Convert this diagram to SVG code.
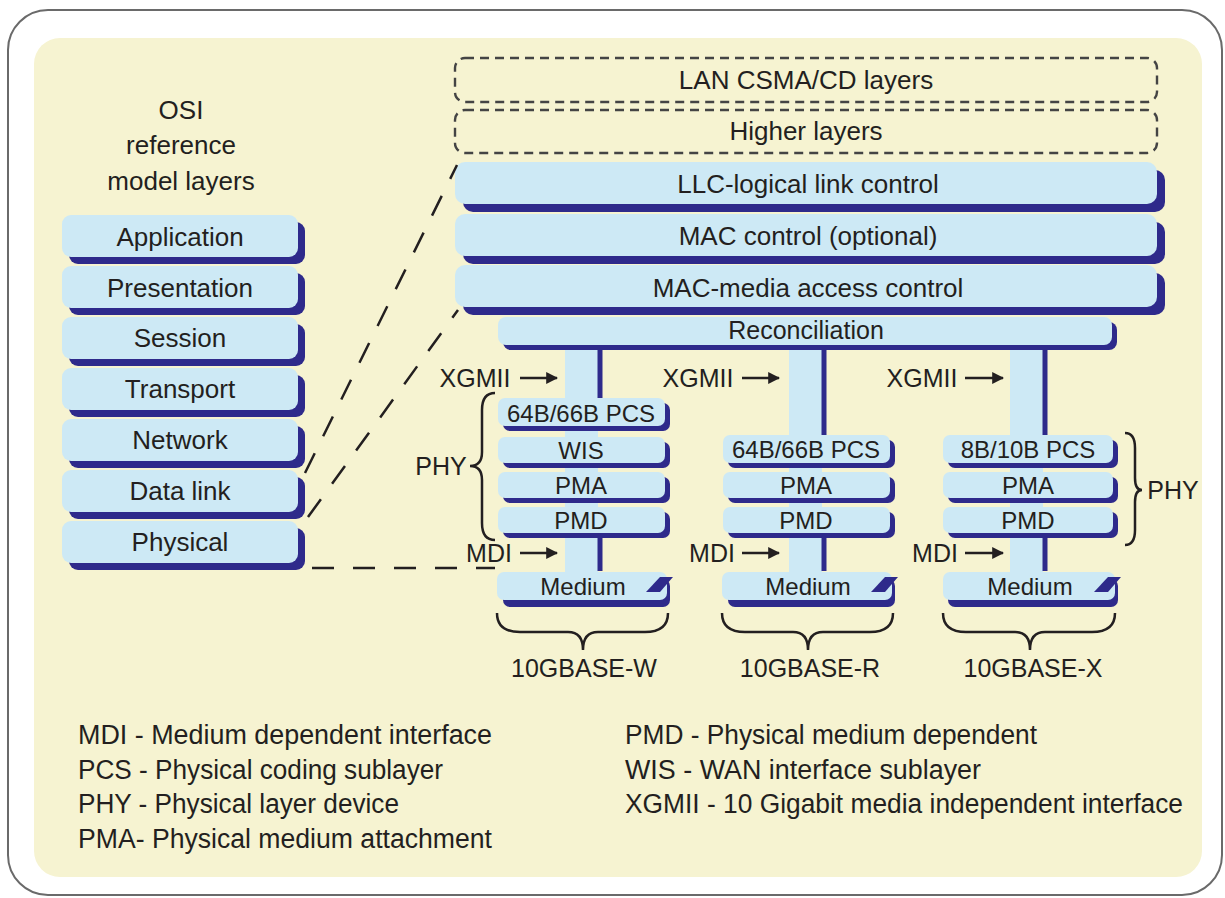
<svg xmlns="http://www.w3.org/2000/svg" width="1225" height="898" viewBox="0 0 1225 898">
<defs>
<style>
.t{font-family:"Liberation Sans",Arial,sans-serif;fill:#231f20;text-anchor:middle;dominant-baseline:central}
.tl{font-family:"Liberation Sans",Arial,sans-serif;fill:#231f20;font-size:27px}
.lt{fill:#cde9f5}
.dk{fill:#2e2a8b}
.dash{fill:none;stroke:#444;stroke-width:2.4;stroke-dasharray:9 6}
.conn{fill:none;stroke:#231f20;stroke-width:2.5;stroke-dasharray:22 19}
.brace{fill:none;stroke:#231f20;stroke-width:2.5}
.arr{stroke:#231f20;stroke-width:2.4;marker-end:url(#ah)}
.vl{stroke:#2e2a8b;stroke-width:5}
</style>
<marker id="ah" viewBox="0 0 10 10" refX="9" refY="5" markerWidth="5" markerHeight="5" orient="auto" markerUnits="strokeWidth">
<path d="M0,0 L10,5 L0,10 z" fill="#231f20"/>
</marker>
</defs>
<rect x="8" y="10" width="1214" height="885" rx="40" fill="#fff" stroke="#6a6a6a" stroke-width="2"/>
<rect x="34" y="38" width="1168" height="839" rx="26" fill="#f6f3d1"/>

<g id="osi-title" class="t" font-size="26">
<text x="181" y="110">OSI</text>
<text x="181" y="145">reference</text>
<text x="181" y="181">model layers</text>
</g>

<g id="osi-application"><rect class="dk" x="69" y="222" width="236" height="42" rx="9"/><rect class="lt" x="62" y="215" width="236" height="42" rx="9"/><text class="t" x="180" y="237" font-size="26">Application</text></g>
<g id="osi-presentation"><rect class="dk" x="69" y="273" width="236" height="42" rx="9"/><rect class="lt" x="62" y="266" width="236" height="42" rx="9"/><text class="t" x="180" y="288" font-size="26">Presentation</text></g>
<g id="osi-session"><rect class="dk" x="69" y="324" width="236" height="42" rx="9"/><rect class="lt" x="62" y="317" width="236" height="42" rx="9"/><text class="t" x="180" y="338" font-size="26">Session</text></g>
<g id="osi-transport"><rect class="dk" x="69" y="375" width="236" height="42" rx="9"/><rect class="lt" x="62" y="368" width="236" height="42" rx="9"/><text class="t" x="180" y="389" font-size="26">Transport</text></g>
<g id="osi-network"><rect class="dk" x="69" y="426" width="236" height="42" rx="9"/><rect class="lt" x="62" y="419" width="236" height="42" rx="9"/><text class="t" x="180" y="440" font-size="26">Network</text></g>
<g id="osi-datalink"><rect class="dk" x="69" y="477" width="236" height="42" rx="9"/><rect class="lt" x="62" y="470" width="236" height="42" rx="9"/><text class="t" x="180" y="491" font-size="26">Data link</text></g>
<g id="osi-physical"><rect class="dk" x="69" y="528" width="236" height="42" rx="9"/><rect class="lt" x="62" y="521" width="236" height="42" rx="9"/><text class="t" x="180" y="542" font-size="26">Physical</text></g>

<g id="lan-csma"><rect class="dash" x="455" y="58" width="702" height="44" rx="10"/><text class="t" x="806" y="80" font-size="26">LAN CSMA/CD layers</text></g>
<g id="higher-layers"><rect class="dash" x="455" y="110" width="702" height="43" rx="10"/><text class="t" x="806" y="131" font-size="26">Higher layers</text></g>
<g id="llc"><rect class="dk" x="463" y="170" width="702" height="42" rx="10"/><rect class="lt" x="455" y="162" width="702" height="42" rx="10"/><text class="t" x="808" y="184" font-size="26">LLC-logical link control</text></g>
<g id="mac-control"><rect class="dk" x="463" y="222" width="702" height="42" rx="10"/><rect class="lt" x="455" y="214" width="702" height="42" rx="10"/><text class="t" x="808" y="236" font-size="26">MAC control (optional)</text></g>
<g id="mac"><rect class="dk" x="463" y="273" width="702" height="42" rx="10"/><rect class="lt" x="455" y="265" width="702" height="42" rx="10"/><text class="t" x="808" y="288" font-size="26">MAC-media access control</text></g>

<g id="connectors">
<rect class="lt" x="565" y="340" width="33" height="232"/>
<rect class="lt" x="789" y="340" width="33" height="232"/>
<rect class="lt" x="1010" y="340" width="33" height="232"/>
<line class="vl" x1="600" y1="345" x2="600" y2="399"/>
<line class="vl" x1="824" y1="345" x2="824" y2="436"/>
<line class="vl" x1="1045" y1="345" x2="1045" y2="436"/>
<line class="vl" x1="600" y1="535" x2="600" y2="571"/>
<line class="vl" x1="824" y1="535" x2="824" y2="571"/>
<line class="vl" x1="1045" y1="535" x2="1045" y2="571"/>
<line class="conn" x1="305" y1="473" x2="457" y2="165"/>
<line class="conn" x1="308" y1="517" x2="458" y2="310"/>
<line class="conn" x1="312" y1="568" x2="495" y2="568"/>
<line class="arr" x1="520" y1="378" x2="557" y2="378"/>
<line class="arr" x1="742" y1="378" x2="779" y2="378"/>
<line class="arr" x1="965" y1="378" x2="1003" y2="378"/>
<line class="arr" x1="520" y1="553" x2="557" y2="553"/>
<line class="arr" x1="742" y1="553" x2="779" y2="553"/>
<line class="arr" x1="965" y1="553" x2="1003" y2="553"/>
</g>

<g id="reconciliation"><rect class="dk" x="503" y="322" width="614" height="28" rx="8"/><rect class="lt" x="498" y="317" width="614" height="28" rx="8"/><text class="t" x="806" y="330" font-size="25">Reconciliation</text></g>

<g id="xgmii-labels" class="t" font-size="25">
<text x="475" y="378">XGMII</text>
<text x="698" y="378">XGMII</text>
<text x="922" y="378">XGMII</text>
</g>
<g id="mdi-labels" class="t" font-size="25">
<text x="489" y="553">MDI</text>
<text x="712" y="553">MDI</text>
<text x="935" y="553">MDI</text>
</g>

<g id="w-pcs"><rect class="dk" x="503" y="403" width="167" height="28" rx="7"/><rect class="lt" x="498" y="398" width="167" height="28" rx="7"/><text class="t" x="581" y="413" font-size="24">64B/66B PCS</text></g>
<g id="w-wis"><rect class="dk" x="503" y="442" width="167" height="26" rx="7"/><rect class="lt" x="498" y="437" width="167" height="26" rx="7"/><text class="t" x="581" y="450" font-size="24">WIS</text></g>
<g id="w-pma"><rect class="dk" x="503" y="477" width="167" height="26" rx="7"/><rect class="lt" x="498" y="472" width="167" height="26" rx="7"/><text class="t" x="581" y="485" font-size="24">PMA</text></g>
<g id="w-pmd"><rect class="dk" x="503" y="512" width="167" height="26" rx="7"/><rect class="lt" x="498" y="507" width="167" height="26" rx="7"/><text class="t" x="581" y="520" font-size="24">PMD</text></g>
<g id="w-medium"><rect class="dk" x="503" y="579" width="167" height="28" rx="7"/><rect class="lt" x="497" y="572" width="170" height="28" rx="7"/><polygon class="dk" points="660,577 673,577 660,592 646,592"/><text class="t" x="583" y="586" font-size="24">Medium</text></g>

<g id="r-pcs"><rect class="dk" x="728" y="440" width="167" height="28" rx="7"/><rect class="lt" x="723" y="435" width="167" height="28" rx="7"/><text class="t" x="806" y="449" font-size="24">64B/66B PCS</text></g>
<g id="r-pma"><rect class="dk" x="728" y="477" width="167" height="26" rx="7"/><rect class="lt" x="723" y="472" width="167" height="26" rx="7"/><text class="t" x="806" y="485" font-size="24">PMA</text></g>
<g id="r-pmd"><rect class="dk" x="728" y="512" width="167" height="26" rx="7"/><rect class="lt" x="723" y="507" width="167" height="26" rx="7"/><text class="t" x="806" y="520" font-size="24">PMD</text></g>
<g id="r-medium"><rect class="dk" x="728" y="579" width="167" height="28" rx="7"/><rect class="lt" x="722" y="572" width="170" height="28" rx="7"/><polygon class="dk" points="885,577 898,577 885,592 871,592"/><text class="t" x="808" y="586" font-size="24">Medium</text></g>

<g id="x-pcs"><rect class="dk" x="948" y="440" width="170" height="28" rx="7"/><rect class="lt" x="943" y="435" width="170" height="28" rx="7"/><text class="t" x="1028" y="449" font-size="24">8B/10B PCS</text></g>
<g id="x-pma"><rect class="dk" x="948" y="477" width="170" height="26" rx="7"/><rect class="lt" x="943" y="472" width="170" height="26" rx="7"/><text class="t" x="1028" y="485" font-size="24">PMA</text></g>
<g id="x-pmd"><rect class="dk" x="948" y="512" width="170" height="26" rx="7"/><rect class="lt" x="943" y="507" width="170" height="26" rx="7"/><text class="t" x="1028" y="520" font-size="24">PMD</text></g>
<g id="x-medium"><rect class="dk" x="948" y="579" width="170" height="28" rx="7"/><rect class="lt" x="943" y="572" width="172" height="28" rx="7"/><polygon class="dk" points="1108,577 1121,577 1108,592 1094,592"/><text class="t" x="1030" y="586" font-size="24">Medium</text></g>

<g id="phy-left"><path class="brace" d="M495,393 Q482,393 482,410 L482,452 Q482,466 470,466 Q482,466 482,480 L482,523 Q482,540 495,540"/><text class="t" x="441" y="466" font-size="25">PHY</text></g>
<g id="phy-right"><path class="brace" d="M1125,433 Q1135,433 1135,448 L1135,478 Q1135,490 1142,490 Q1135,490 1135,502 L1135,530 Q1135,545 1125,545"/><text class="t" x="1173" y="490" font-size="25">PHY</text></g>

<g id="base-w"><path class="brace" d="M497,613 Q497,632 520,632 L568,632 Q583,632 583,650 Q583,632 598,632 L645,632 Q668,632 668,613"/><text class="t" x="584" y="668" font-size="25">10GBASE-W</text></g>
<g id="base-r"><path class="brace" d="M722,613 Q722,632 745,632 L793,632 Q808,632 808,650 Q808,632 823,632 L870,632 Q893,632 893,613"/><text class="t" x="810" y="668" font-size="25">10GBASE-R</text></g>
<g id="base-x"><path class="brace" d="M943,613 Q943,632 966,632 L1015,632 Q1030,632 1030,650 Q1030,632 1045,632 L1092,632 Q1115,632 1115,613"/><text class="t" x="1033" y="668" font-size="25">10GBASE-X</text></g>

<g id="legend">
<text class="tl" x="78" y="744" textLength="414" lengthAdjust="spacingAndGlyphs">MDI - Medium dependent interface</text>
<text class="tl" x="78" y="779" textLength="365" lengthAdjust="spacingAndGlyphs">PCS - Physical coding sublayer</text>
<text class="tl" x="78" y="813" textLength="321" lengthAdjust="spacingAndGlyphs">PHY - Physical layer device</text>
<text class="tl" x="78" y="848" textLength="414" lengthAdjust="spacingAndGlyphs">PMA- Physical medium attachment</text>
<text class="tl" x="625" y="744" textLength="412" lengthAdjust="spacingAndGlyphs">PMD - Physical medium dependent</text>
<text class="tl" x="625" y="779" textLength="356" lengthAdjust="spacingAndGlyphs">WIS - WAN interface sublayer</text>
<text class="tl" x="625" y="813" textLength="558" lengthAdjust="spacingAndGlyphs">XGMII - 10 Gigabit media independent interface</text>
</g>
</svg>
